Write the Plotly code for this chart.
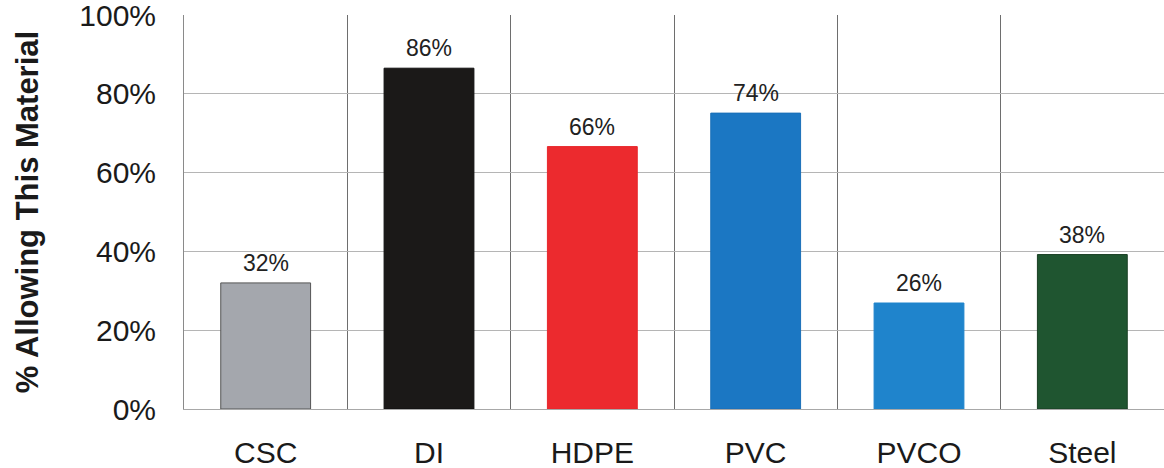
import plotly.graph_objects as go

# data
materials = ["CSC", "DI", "HDPE", "PVC", "PVCO", "Steel"]
allowing = [32.0, 86.5, 66.6, 75.1, 26.9, 39.2]  # bar heights (%)
labels = ["32%", "86%", "66%", "74%", "26%", "38%"]
bar_colors = ["#a4a7ad", "#1b1918", "#ec2a2e", "#1b77c3", "#1f84cc", "#1f5530"]
outline_colors = ["#555555", "#111111", "#e8262b", "#1a6fb8", "#1f84cc", "#1a3f24"]

fig = go.Figure()
fig.add_trace(go.Bar(
    x=materials,
    y=allowing,
    width=0.55,
    marker=dict(color=bar_colors, line=dict(color=outline_colors, width=1)),
    cliponaxis=False,
))

# value labels above bars
for m, v, t in zip(materials, allowing, labels):
    fig.add_annotation(x=m, y=v, text=t, showarrow=False, yanchor="bottom", yshift=5,
                       font=dict(family="Liberation Sans, Arial", size=23, color="#222222"))

fig.update_layout(
    width=1164, height=468,
    margin=dict(l=184, r=0, t=15, b=59),
    plot_bgcolor="white", paper_bgcolor="white",
    showlegend=False,
    font=dict(family="Liberation Sans, Arial", color="#1a1a1a"),
)
fig.update_xaxes(
    range=[-0.5, 5.5],
    tickson="boundaries",
    showgrid=True, gridcolor="#6e6e6e", gridwidth=1,
    ticks="", tickfont=dict(size=30),
    ticklabelstandoff=17,
    ticklabeloverflow="allow",
    showline=True, linecolor="#a8a8a8", linewidth=1,
    automargin=False,
)
fig.update_yaxes(
    range=[0, 100],
    tickvals=[0, 20, 40, 60, 80, 100],
    ticktext=["0%", "20%", "40%", "60%", "80%", "100%"],
    showgrid=True, gridcolor="#b5b5b5", gridwidth=1,
    zeroline=False,
    showline=True, linecolor="#8a8a8a", linewidth=1,
    ticks="", tickfont=dict(size=30),
    ticklabelstandoff=21,
    ticklabeloverflow="allow",
    automargin=False,
    title=dict(text="<b>% Allowing This Material</b>", font=dict(size=31, color="#1a1a1a"), standoff=31),
)

# drop the default 8px body margin so the figure fills the window; no modebar
fig.write_html("out.html", config={"displayModeBar": False},
               post_script="document.body.style.margin='0';")
